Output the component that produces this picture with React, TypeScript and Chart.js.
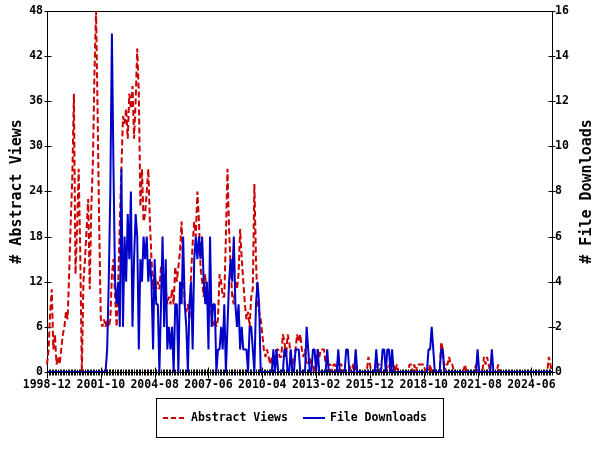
import React, { useEffect, useRef } from "react";
import { Chart, registerables } from "chart.js";

Chart.register(...registerables);

// Monthly categories: 1998-12 ... 2025-07
const START_YEAR = 1998;
const START_MONTH = 12;
const MONTH_COUNT = 320;
const months: string[] = Array.from({ length: MONTH_COUNT }, (_, i) => {
  const t = START_MONTH - 1 + i;
  const y = START_YEAR + Math.floor(t / 12);
  const m = (t % 12) + 1;
  return `${y}-${String(m).padStart(2, "0")}`;
});

// Labelled x ticks
const tickLabels = [
  "1998-12", "2001-10", "2004-08", "2007-06", "2010-04",
  "2013-02", "2015-12", "2018-10", "2021-08", "2024-06",
];

// # Abstract Views (left axis)
const abstractViews = [
  1, 3, 8, 11, 3, 5, 1, 2, 1, 3, 5, 6, 8, 7, 13, 20, 26, 37, 13, 19,
  27, 16, 0, 12, 15, 19, 23, 11, 22, 28, 40, 48, 34, 19, 7, 6, 7, 6, 7, 6,
  7, 13, 15, 10, 6, 12, 20, 27, 34, 33, 35, 31, 37, 35, 38, 31, 36, 43, 37, 22,
  27, 20, 21, 24, 27, 20, 15, 11, 13, 11, 12, 11, 14, 12, 13, 11, 9, 10, 9, 11,
  9, 14, 12, 14, 16, 20, 14, 9, 8, 9, 7, 13, 17, 20, 18, 24, 20, 14, 12, 10,
  13, 9, 10, 11, 7, 6, 7, 6, 7, 13, 12, 10, 10, 18, 27, 19, 14, 10, 9, 12,
  11, 13, 19, 15, 12, 9, 7, 8, 6, 10, 11, 25, 15, 9, 8, 7, 5, 3, 2, 3,
  2, 1, 2, 1, 2, 3, 3, 2, 2, 5, 4, 2, 5, 4, 2, 2, 1, 3, 5, 4,
  5, 3, 2, 3, 1, 1, 2, 1, 1, 0, 1, 3, 2, 3, 3, 3, 1, 1, 1, 1,
  0, 1, 1, 0, 1, 1, 1, 0, 0, 0, 0, 0, 1, 1, 0, 1, 0, 0, 0, 0,
  0, 0, 0, 2, 1, 0, 0, 0, 0, 1, 1, 0, 0, 0, 0, 1, 1, 0, 1, 1,
  0, 1, 0, 0, 0, 0, 0, 0, 0, 1, 1, 0, 1, 0, 1, 1, 1, 1, 1, 0,
  0, 0, 1, 0, 0, 0, 0, 0, 0, 4, 3, 0, 1, 1, 2, 1, 1, 0, 0, 0,
  0, 0, 0, 0, 1, 0, 0, 0, 0, 0, 0, 1, 0, 0, 0, 0, 2, 1, 2, 1,
  0, 0, 0, 0, 0, 1, 0, 0, 0, 0, 0, 0, 0, 0, 0, 0, 0, 0, 0, 0,
  0, 0, 0, 0, 0, 0, 0, 0, 0, 0, 0, 0, 0, 0, 0, 0, 0, 2, 1, 0,
];

// # File Downloads (right axis)
const fileDownloads = [
  0, 0, 0, 0, 0, 0, 0, 0, 0, 0, 0, 0, 0, 0, 0, 0, 0, 0, 0, 0,
  0, 0, 0, 0, 0, 0, 0, 0, 0, 0, 0, 0, 0, 0, 0, 0, 0, 0, 1, 4,
  8, 15, 9, 4, 3, 4, 2, 9, 2, 6, 4, 7, 5, 8, 2, 5, 7, 6, 1, 5,
  4, 6, 5, 6, 4, 5, 4, 1, 5, 3, 3, 0, 3, 6, 2, 5, 1, 2, 1, 2,
  0, 3, 3, 0, 4, 3, 6, 3, 2, 0, 3, 4, 1, 5, 6, 5, 6, 5, 6, 4,
  3, 4, 1, 6, 2, 3, 3, 0, 1, 1, 2, 1, 3, 0, 2, 4, 5, 4, 6, 3,
  2, 3, 1, 2, 1, 1, 1, 0, 2, 2, 1, 0, 3, 4, 3, 0, 0, 0, 0, 0,
  0, 0, 0, 1, 0, 1, 0, 0, 0, 0, 1, 1, 0, 0, 1, 0, 0, 1, 1, 1,
  0, 0, 0, 0, 2, 1, 0, 0, 1, 1, 0, 1, 0, 0, 0, 0, 0, 1, 0, 0,
  0, 0, 0, 0, 1, 0, 0, 0, 0, 1, 1, 0, 0, 0, 0, 1, 0, 0, 0, 0,
  0, 0, 0, 0, 0, 0, 0, 0, 1, 0, 0, 0, 1, 1, 0, 1, 1, 0, 1, 0,
  0, 0, 0, 0, 0, 0, 0, 0, 0, 0, 0, 0, 0, 0, 0, 0, 0, 0, 0, 0,
  0, 1, 1, 2, 1, 0, 0, 0, 0, 1, 1, 0, 0, 0, 0, 0, 0, 0, 0, 0,
  0, 0, 0, 0, 0, 0, 0, 0, 0, 0, 0, 0, 1, 0, 0, 0, 0, 0, 0, 0,
  0, 1, 0, 0, 0, 0, 0, 0, 0, 0, 0, 0, 0, 0, 0, 0, 0, 0, 0, 0,
  0, 0, 0, 0, 0, 0, 0, 0, 0, 0, 0, 0, 0, 0, 0, 0, 0, 0, 0, 0,
];

const seriesNames = ["Abstract Views", "File Downloads"];
const axisTitles = ["# Abstract Views", "# File Downloads"];

const RED = "#cc0000";
const BLUE = "#0000c8";
const FONT = "DejaVu Sans Mono";
const DASH = [6, 3];

const decorPlugin = {
  id: "decor",
  beforeDatasetsDraw(chart: any) {
    const { ctx, chartArea: a, scales } = chart;
    const L = Math.round(a.left) + 0.5;
    const R = Math.round(a.right) + 0.5;
    const T = Math.round(a.top) + 0.5;
    const B = Math.round(a.bottom) + 0.5;
    ctx.save();
    ctx.strokeStyle = "#000";
    ctx.lineWidth = 1;
    ctx.beginPath();
    ctx.rect(L, T, R - L, B - T);
    // x ticks (every month, longer at labelled months)
    const xs = scales.x;
    for (let i = 0; i < months.length; i++) {
      const px = Math.round(xs.getPixelForValue(i)) + 0.5;
      const major = tickLabels.includes(months[i]);
      const up = major ? 5 : 3;
      const down = major ? 6 : 3;
      ctx.moveTo(px, B - up);
      ctx.lineTo(px, B + down);
    }
    // left y ticks
    const ys = scales.y;
    ys.ticks.forEach((t: any) => {
      const py = Math.round(ys.getPixelForValue(t.value)) + 0.5;
      ctx.moveTo(L - 3, py);
      ctx.lineTo(L + 4, py);
    });
    const y1 = scales.y1;
    y1.ticks.forEach((t: any) => {
      const py = Math.round(y1.getPixelForValue(t.value)) + 0.5;
      ctx.moveTo(R - 4, py);
      ctx.lineTo(R + 3, py);
    });
    ctx.stroke();
    ctx.restore();
  },
  afterDraw(chart: any) {
    const { ctx, chartArea: a } = chart;
    const midY = (a.top + a.bottom) / 2;
    ctx.save();
    ctx.fillStyle = "#000";
    ctx.font = `bold 15px "${FONT}"`;
    ctx.textAlign = "center";
    ctx.textBaseline = "middle";
    ctx.save();
    ctx.translate(17, midY);
    ctx.rotate(-Math.PI / 2);
    ctx.fillText(axisTitles[0], 0, 0);
    ctx.restore();
    ctx.save();
    ctx.translate(587, midY);
    ctx.rotate(-Math.PI / 2);
    ctx.fillText(axisTitles[1], 0, 0);
    ctx.restore();

    // legend box
    ctx.strokeStyle = "#000";
    ctx.lineWidth = 1;
    ctx.strokeRect(156.5, 398.5, 287, 39);
    const ly = 418;
    ctx.lineWidth = 2;
    ctx.strokeStyle = RED;
    ctx.setLineDash([5, 3]);
    ctx.beginPath();
    ctx.moveTo(163, ly);
    ctx.lineTo(184, ly);
    ctx.stroke();
    ctx.setLineDash([]);
    ctx.strokeStyle = BLUE;
    ctx.beginPath();
    ctx.moveTo(303, ly);
    ctx.lineTo(325, ly);
    ctx.stroke();
    ctx.font = `bold 11.5px "${FONT}"`;
    ctx.textAlign = "left";
    ctx.fillText(seriesNames[0], 191, ly);
    ctx.fillText(seriesNames[1], 330, ly);
    ctx.restore();
  },
};

export default function App() {
  const ref = useRef<HTMLCanvasElement | null>(null);
  useEffect(() => {
    if (!ref.current) return;
    const tickFont = { family: FONT, size: 11.5, weight: "bold" as const };
    const chart = new Chart(ref.current, {
      type: "line",
      data: {
        labels: months,
        datasets: [
          {
            label: seriesNames[1],
            data: fileDownloads,
            borderColor: BLUE,
            borderWidth: 2,
            pointRadius: 0,
            tension: 0,
            borderJoinStyle: "bevel",
            yAxisID: "y1",
            order: 1,
          },
          {
            label: seriesNames[0],
            data: abstractViews,
            borderColor: RED,
            borderWidth: 2,
            borderDash: DASH,
            pointRadius: 0,
            tension: 0,
            borderJoinStyle: "bevel",
            yAxisID: "y",
            order: 2,
          },
        ],
      },
      options: {
        animation: false,
        responsive: false,
        events: [],
        layout: { padding: { top: 10, left: 0, right: 0, bottom: 0 }, autoPadding: false },
        plugins: { legend: { display: false }, tooltip: { enabled: false }, title: { display: false } },
        scales: {
          x: {
            type: "category",
            offset: false,
            grid: { display: false, drawTicks: false },
            border: { display: false },
            ticks: {
              autoSkip: false,
              maxRotation: 0,
              minRotation: 0,
              padding: 6,
              color: "#000",
              font: tickFont,
              callback: (_v: any, i: number) => (tickLabels.includes(months[i]) ? months[i] : ""),
            },
            afterFit: (s: any) => {
              s.height = 78;
            },
          },
          y: {
            position: "left",
            min: 0,
            max: 48,
            grid: { display: false, drawTicks: false },
            border: { display: false },
            ticks: { stepSize: 6, padding: 4, color: "#000", font: tickFont },
            afterFit: (s: any) => {
              s.width = 47;
            },
          },
          y1: {
            position: "right",
            min: 0,
            max: 16,
            grid: { display: false, drawTicks: false },
            border: { display: false },
            ticks: { stepSize: 2, padding: 3, color: "#000", font: tickFont },
            afterFit: (s: any) => {
              s.width = 48;
            },
          },
        },
      },
      plugins: [decorPlugin],
    });
    return () => chart.destroy();
  }, []);
  return (
    <div style={{ position: "absolute", left: 0, top: 0, width: 600, height: 450, background: "#fff" }}>
      <canvas ref={ref} width={600} height={450} />
    </div>
  );
}
